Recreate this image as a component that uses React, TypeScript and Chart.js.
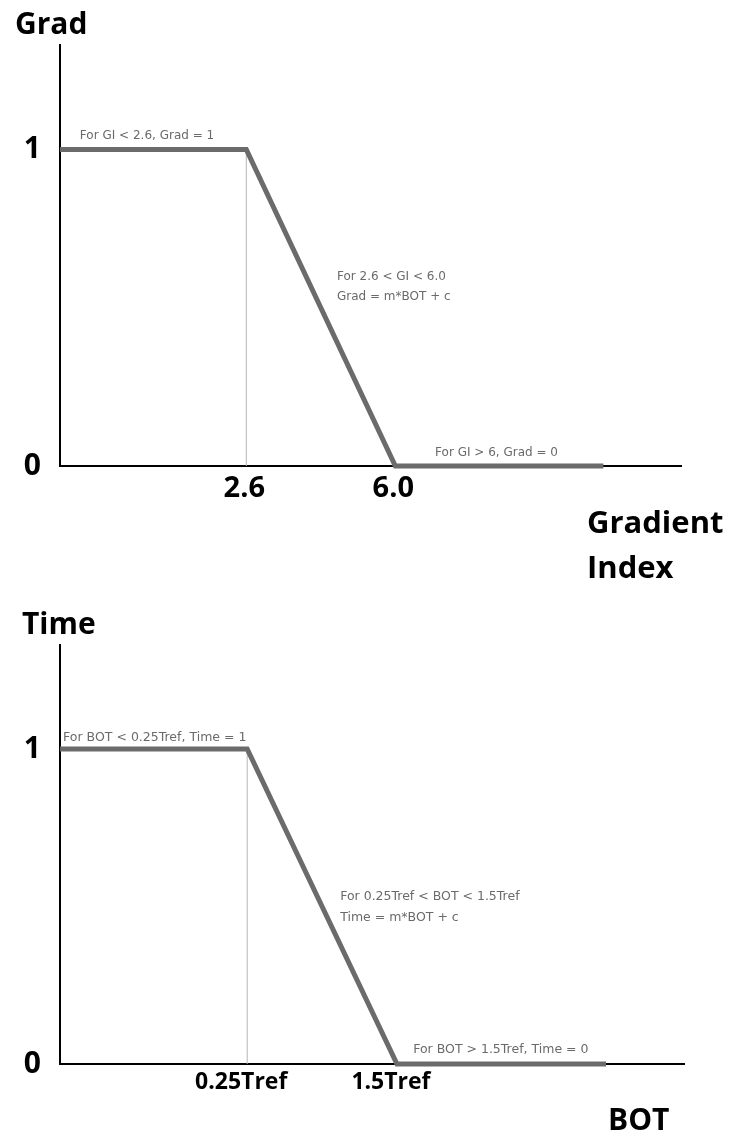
import React, { useEffect, useRef } from "react";
import { Chart, registerables } from "chart.js";

Chart.register(...registerables);

// ---- Data (schematic axis positions, as drawn) ----
const gradX = [0, 3.0, 5.4, 8.75];
const gradY = [1, 1, 0, 0];
const gradTickPos = [3.0, 5.4];
const gradTickLabels = ["2.6", "6.0"];

const timeX = [0, 3.0, 5.4, 8.75];
const timeY = [1, 1, 0, 0];
const timeTickPos = [3.0, 5.4];
const timeTickLabels = ["0.25Tref", "1.5Tref"];

const levelTicks = [0, 1];
const levelTickLabels = ["0", "1"];

const gradNotes = [
  "For GI < 2.6, Grad = 1",
  "For 2.6 < GI < 6.0",
  "Grad = m*BOT + c",
  "For GI > 6, Grad = 0",
];
const timeNotes = [
  "For BOT < 0.25Tref, Time = 1",
  "For 0.25Tref < BOT < 1.5Tref",
  "Time = m*BOT + c",
  "For BOT > 1.5Tref, Time = 0",
];

const BOLD = "'Open Sans', Lato, sans-serif";
const NOTE = "'DejaVu Sans', 'Open Sans', sans-serif";

type Note = { text: string; x: number; y: number };
type Title = { lines: string[]; left: number; top: number; size: number; gap: number };

type Props = {
  top: number;
  height: number;
  padTop: number;
  padRight: number;
  xHeight: number;
  xs: number[];
  ys: number[];
  tickPos: number[];
  tickLabels: string[];
  tickFont: number;
  tickPad: number;
  tickShift: number;
  noteSize: number;
  notes: Note[];
  yTitle: Title;
  xTitle: Title;
};

function Panel(p: Props) {
  const ref = useRef<HTMLCanvasElement | null>(null);
  useEffect(() => {
    if (!ref.current) return;
    const textPlugin = {
      id: "texts",
      afterDraw(chart: any) {
        const ctx = chart.ctx;
        const xs = chart.scales.x;
        const ys = chart.scales.y;
        ctx.save();
        ctx.fillStyle = "#6a6a6a";
        ctx.font = `${p.noteSize}px ${NOTE}`;
        ctx.textAlign = "left";
        ctx.textBaseline = "middle";
        for (const n of p.notes) {
          ctx.fillText(n.text, xs.getPixelForValue(n.x), ys.getPixelForValue(n.y));
        }
        ctx.fillStyle = "#000000";
        for (const t of [p.yTitle, p.xTitle]) {
          ctx.font = `bold ${t.size}px ${BOLD}`;
          t.lines.forEach((l, i) => ctx.fillText(l, t.left, t.top + i * t.gap));
        }
        ctx.restore();
      },
    };
    const chart = new Chart(ref.current, {
      type: "line",
      data: {
        datasets: [
          {
            data: p.xs.map((x, i) => ({ x, y: p.ys[i] })),
            borderColor: "#6b6b6b",
            borderWidth: 5,
            pointRadius: 0,
            tension: 0,
            borderJoinStyle: "miter",
            clip: false,
          } as any,
          {
            data: [
              { x: p.xs[1], y: 0 },
              { x: p.xs[1], y: p.ys[1] },
            ],
            borderColor: "#b5b5b5",
            borderWidth: 1,
            pointRadius: 0,
          },
        ],
      },
      options: {
        animation: false,
        responsive: false,
        events: [],
        layout: { padding: { top: p.padTop, right: p.padRight, left: 0, bottom: 0 } },
        plugins: { legend: { display: false }, tooltip: { enabled: false }, title: { display: false } },
        scales: {
          x: {
            type: "linear",
            min: 0,
            max: 10,
            grid: { display: false, drawTicks: false },
            border: { display: true, color: "#000000", width: 2 },
            afterBuildTicks: (s: any) => {
              s.ticks = p.tickPos.map((v) => ({ value: v }));
            },
            afterFit: (s: any) => {
              s.height = p.xHeight;
            },
            ticks: {
              autoSkip: false,
              maxRotation: 0,
              padding: p.tickPad,
              labelOffset: p.tickShift,
              color: "#000000",
              font: { family: BOLD, size: p.tickFont, weight: "bold" },
              callback: (_v: any, i: number) => p.tickLabels[i],
            },
          } as any,
          y: {
            type: "linear",
            min: 0,
            max: 1.33,
            grid: { display: false, drawTicks: false },
            border: { display: true, color: "#000000", width: 2 },
            afterBuildTicks: (s: any) => {
              s.ticks = levelTicks.map((v) => ({ value: v }));
            },
            afterFit: (s: any) => {
              s.width = 60;
            },
            ticks: {
              padding: 19,
              color: "#000000",
              font: { family: BOLD, size: 30, weight: "bold" },
              callback: (_v: any, i: number) => levelTickLabels[i],
            },
          } as any,
        },
      },
      plugins: [textPlugin],
    });
    return () => chart.destroy();
  }, []);
  return (
    <canvas
      ref={ref}
      width={733}
      height={p.height}
      style={{ position: "absolute", left: 0, top: p.top, width: 733, height: p.height }}
    />
  );
}

export default function App() {
  return (
    <div style={{ position: "absolute", left: 0, top: 0, width: 733, height: 1143, background: "#ffffff" }}>
      <Panel
        top={0}
        height={590}
        padTop={45}
        padRight={52}
        xHeight={124}
        xs={gradX}
        ys={gradY}
        tickPos={gradTickPos}
        tickLabels={gradTickLabels}
        tickFont={29}
        tickPad={5}
        tickShift={-2}
        noteSize={12}
        notes={[
          { text: gradNotes[0], x: 0.32, y: 1.044 },
          { text: gradNotes[1], x: 4.46, y: 0.598 },
          { text: gradNotes[2], x: 4.46, y: 0.535 },
          { text: gradNotes[3], x: 6.04, y: 0.041 },
        ]}
        yTitle={{ lines: ["Grad"], left: 15, top: 25, size: 30, gap: 0 }}
        xTitle={{ lines: ["Gradient", "Index"], left: 587, top: 524, size: 31, gap: 45 }}
      />
      <Panel
        top={590}
        height={553}
        padTop={55}
        padRight={49}
        xHeight={79}
        xs={timeX}
        ys={timeY}
        tickPos={timeTickPos}
        tickLabels={timeTickLabels}
        tickFont={23}
        tickPad={5}
        tickShift={-6}
        noteSize={12.5}
        notes={[
          { text: timeNotes[0], x: 0.05, y: 1.035 },
          { text: timeNotes[1], x: 4.49, y: 0.532 },
          { text: timeNotes[2], x: 4.49, y: 0.465 },
          { text: timeNotes[3], x: 5.66, y: 0.044 },
        ]}
        yTitle={{ lines: ["Time"], left: 22, top: 35, size: 30, gap: 0 }}
        xTitle={{ lines: ["BOT"], left: 608, top: 531, size: 30, gap: 0 }}
      />
    </div>
  );
}
